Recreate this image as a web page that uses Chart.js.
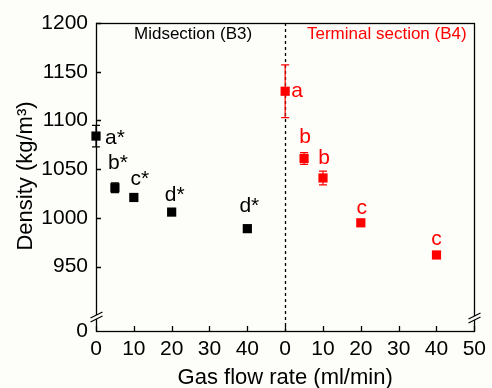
<!DOCTYPE html>
<html>
<head>
<meta charset="utf-8">
<script src="https://cdn.jsdelivr.net/npm/chart.js@4.4.1/dist/chart.umd.min.js"></script>
<style>
  html, body { margin: 0; padding: 0; background: #fdfdf9; }
  #wrap { width: 492px; height: 388px; }
</style>
</head>
<body>
<div id="wrap"><canvas id="chart" width="492" height="388"></canvas></div>
<script>
// Midsection (B3)
const midFlow = [0, 5, 10, 20, 40];
const midDensity = [1084, 1031, 1021, 1006, 989];
const midError = [11, 5, 3, 2, 2];
const midLetters = ['a*', 'b*', 'c*', 'd*', 'd*'];

// Terminal section (B4)
const termFlow = [0, 5, 10, 20, 40];
const termDensity = [1130, 1061, 1041, 995, 962];
const termError = [27, 6, 7, 3, 3];
const termLetters = ['a', 'b', 'b', 'c', 'c'];

// axis ticks (x axis is two panels side by side, y axis is broken near the bottom)
const xTickValues = [0, 10, 20, 30, 40, 50, 60, 70, 80, 90, 100];
const xTickLabels = ['0', '10', '20', '30', '40', '0', '10', '20', '30', '40', '50'];
const yTickValues = [884, 950, 1000, 1050, 1100, 1150, 1200];
const yTickLabels = ['0', '950', '1000', '1050', '1100', '1150', '1200'];

const termShift = 50; // second panel starts at x = 50
const FONT = "'Liberation Sans', Arial, sans-serif";
const RED = '#ff0000';

// letter placement next to each point (dx, dy, align)
const midLabelPos = [[9, 2, 'left'], [3, -25, 'center'], [6, -18, 'center'], [3, -17, 'center'], [2, -22, 'center']];
const termLabelPos = [[6, 0, 'left'], [1, -21, 'center'], [1, -20, 'center'], [1, -15, 'center'], [0, -16, 'center']];

const decor = {
    id: 'decor',
    beforeDatasetsDraw(chart) {
        const ctx = chart.ctx;
        const xs = chart.scales.x, ys = chart.scales.y;
        const area = chart.chartArea;
        ctx.save();
        // dashed divider between panels
        ctx.strokeStyle = '#000';
        ctx.lineWidth = 1.3;
        ctx.setLineDash([3, 3]);
        const xd = Math.round(xs.getPixelForValue(termShift)) + 0.5;
        ctx.beginPath();
        ctx.moveTo(xd, area.top);
        ctx.lineTo(xd, area.bottom);
        ctx.stroke();
        ctx.setLineDash([]);
        // error bars
        const drawErr = (flows, vals, errs, shift, color) => {
            ctx.strokeStyle = color;
            ctx.lineWidth = 1.2;
            for (let i = 0; i < flows.length; i++) {
                const px = xs.getPixelForValue(flows[i] + shift);
                const top = ys.getPixelForValue(vals[i] + errs[i]);
                const bot = ys.getPixelForValue(vals[i] - errs[i]);
                ctx.beginPath();
                ctx.moveTo(px, top); ctx.lineTo(px, bot);
                ctx.moveTo(px - 4, top); ctx.lineTo(px + 4, top);
                ctx.moveTo(px - 4, bot); ctx.lineTo(px + 4, bot);
                ctx.stroke();
            }
        };
        drawErr(midFlow, midDensity, midError, 0, '#000');
        drawErr(termFlow, termDensity, termError, termShift, RED);
        ctx.restore();
    },
    afterDraw(chart) {
        const ctx = chart.ctx;
        const xs = chart.scales.x, ys = chart.scales.y;
        const a = chart.chartArea;
        ctx.save();
        // frame
        ctx.strokeStyle = '#000';
        ctx.lineWidth = 1.3;
        ctx.strokeRect(Math.round(a.left) + 0.5, Math.round(a.top) + 0.5,
            Math.round(a.right - a.left), Math.round(a.bottom - a.top));
        // inward ticks
        ctx.beginPath();
        xTickValues.forEach(v => {
            const px = Math.round(xs.getPixelForValue(v)) + 0.5;
            ctx.moveTo(px, a.bottom); ctx.lineTo(px, a.bottom - 5);
        });
        yTickValues.slice(1).forEach(v => {
            const py = Math.round(ys.getPixelForValue(v)) + 0.5;
            ctx.moveTo(a.left, py); ctx.lineTo(a.left + 5, py);
        });
        ctx.stroke();
        // axis break marks
        const brk = (x, y) => {
            ctx.fillStyle = '#fdfdf9';
            ctx.fillRect(x - 2, y - 2, 4, 4);
            ctx.beginPath();
            ctx.moveTo(x - 6, y + 1); ctx.lineTo(x + 6, y - 5);
            ctx.moveTo(x - 6, y + 5); ctx.lineTo(x + 6, y - 1);
            ctx.stroke();
        };
        brk(Math.round(a.left) + 0.5, a.bottom - 14);
        brk(Math.round(a.right) + 0.5, a.bottom - 13);
        // panel titles
        ctx.font = '17px ' + FONT;
        ctx.textBaseline = 'middle';
        ctx.textAlign = 'left';
        ctx.fillStyle = '#000';
        ctx.fillText('Midsection (B3)', 134, 34);
        ctx.fillStyle = RED;
        ctx.fillText('Terminal section (B4)', 307, 34);
        // significance letters
        ctx.font = '21px ' + FONT;
        const letters = (flows, vals, labs, pos, shift, color) => {
            ctx.fillStyle = color;
            for (let i = 0; i < flows.length; i++) {
                const px = xs.getPixelForValue(flows[i] + shift);
                const py = ys.getPixelForValue(vals[i]);
                ctx.textAlign = pos[i][2];
                ctx.fillText(labs[i], px + pos[i][0], py + pos[i][1]);
            }
        };
        letters(midFlow, midDensity, midLetters, midLabelPos, 0, '#000');
        letters(termFlow, termDensity, termLetters, termLabelPos, termShift, RED);
        // axis titles
        ctx.fillStyle = '#000';
        ctx.font = '22px ' + FONT;
        ctx.textAlign = 'center';
        ctx.textBaseline = 'alphabetic';
        ctx.fillText('Gas flow rate (ml/min)', (a.left + a.right) / 2, 384);
        ctx.translate(32, 176);
        ctx.rotate(-Math.PI / 2);
        ctx.fillText('Density (kg/m\u00b3)', 0, 0);
        ctx.restore();
    }
};

const ctx = document.getElementById('chart').getContext('2d');
new Chart(ctx, {
    type: 'scatter',
    data: {
        datasets: [{
            label: 'Midsection (B3)',
            data: midFlow.map((f, i) => ({x: f, y: midDensity[i]})),
            pointStyle: 'rect',
            pointRadius: 6.5,
            backgroundColor: '#000',
            borderColor: '#000',
            borderWidth: 0,
            clip: false
        }, {
            label: 'Terminal section (B4)',
            data: termFlow.map((f, i) => ({x: f + termShift, y: termDensity[i]})),
            pointStyle: 'rect',
            pointRadius: 6.5,
            backgroundColor: RED,
            borderColor: RED,
            borderWidth: 0,
            clip: false
        }]
    },
    options: {
        responsive: false,
        animation: false,
        devicePixelRatio: 1,
        layout: { padding: { top: 23, right: 14, left: 0, bottom: 0 } },
        plugins: { legend: { display: false }, tooltip: { enabled: false } },
        scales: {
            x: {
                type: 'linear',
                min: 0,
                max: 100,
                afterBuildTicks: s => { s.ticks = xTickValues.map(v => ({value: v})); },
                afterFit: s => { s.height = 57; },
                ticks: {
                    callback: (v, i) => xTickLabels[i],
                    font: { family: FONT, size: 21 },
                    color: '#000',
                    padding: 6,
                    maxRotation: 0,
                    autoSkip: false
                },
                grid: { display: false, drawTicks: false },
                border: { display: false }
            },
            y: {
                type: 'linear',
                min: 884,
                max: 1200,
                afterBuildTicks: s => { s.ticks = yTickValues.map(v => ({value: v})); },
                afterFit: s => { s.width = 96; },
                ticks: {
                    callback: (v, i) => yTickLabels[i],
                    font: { family: FONT, size: 21 },
                    color: '#000',
                    padding: 8,
                    autoSkip: false
                },
                grid: { display: false, drawTicks: false },
                border: { display: false }
            }
        }
    },
    plugins: [decor]
});
</script>
</body>
</html>
